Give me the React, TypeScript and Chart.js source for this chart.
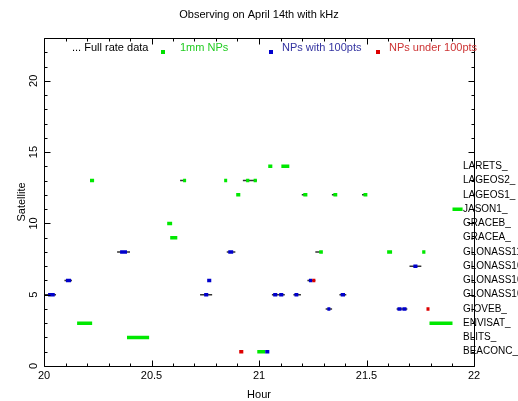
import React, { useEffect, useRef } from 'react';
import { Chart, registerables } from 'chart.js';

Chart.register(...registerables);

const titleText = 'Observing on April 14th with kHz';
const xTitle = 'Hour';
const yTitle = 'Satellite';
const xMin = 20;
const xMax = 22;
const yMin = 0;
const yMax = 23;
const xTickValues = [20, 20.5, 21, 21.5, 22];
const xTickLabels = ['20', '20.5', '21', '21.5', '22'];
const yTickValues = [0, 5, 10, 15, 20];
const yTickLabels = ['0', '5', '10', '15', '20'];

// satellite index -> name (index 1 at bottom)
const satIndex = [1, 2, 3, 4, 5, 6, 7, 8, 9, 10, 11, 12, 13, 14];
const satNames = [
  'BEACONC_', 'BLITS_', 'ENVISAT_', 'GIOVEB_', 'GLONASS102_', 'GLONASS103_',
  'GLONASS109_', 'GLONASS115_', 'GRACEA_', 'GRACEB_', 'JASON1_', 'LAGEOS1_',
  'LAGEOS2_', 'LARETS_',
];

const legendLabels = ['... Full rate data', '1mm NPs', 'NPs with 100pts', 'NPs under 100pts'];

// [satellite, start hour, end hour]
const fullRateSpans: number[][] = [
  [13, 20.633, 20.66], [13, 20.925, 20.99],
  [12, 21.199, 21.21], [12, 21.339, 21.35], [12, 21.479, 21.49],
  [8, 20.34, 20.40], [8, 20.85, 20.89], [8, 21.262, 21.285],
  [7, 21.70, 21.755],
  [6, 20.095, 20.13], [6, 21.225, 21.262],
  [5, 20.0, 20.056], [5, 20.726, 20.782], [5, 21.06, 21.12], [5, 21.16, 21.195], [5, 21.374, 21.406],
  [4, 21.31, 21.34], [4, 21.64, 21.69],
];

const greenSpans: number[][] = [
  [14, 21.043, 21.062], [14, 21.104, 21.141],
  [13, 20.214, 20.233], [13, 20.647, 20.661], [13, 20.838, 20.852], [13, 20.94, 20.955], [13, 20.975, 20.99],
  [12, 20.894, 20.913], [12, 21.206, 21.225], [12, 21.346, 21.364], [12, 21.486, 21.504],
  [11, 21.9, 21.947],
  [10, 20.573, 20.596],
  [9, 20.587, 20.62],
  [8, 21.28, 21.297], [8, 21.596, 21.619], [8, 21.759, 21.774],
  [3, 20.154, 20.224], [3, 21.793, 21.9],
  [2, 20.386, 20.489],
  [1, 20.992, 21.029],
];

const blueSpans: number[][] = [
  [8, 20.354, 20.386], [8, 20.857, 20.88],
  [7, 21.718, 21.737],
  [6, 20.102, 20.126], [6, 20.759, 20.778], [6, 21.232, 21.248],
  [5, 20.019, 20.05], [5, 20.745, 20.764], [5, 21.066, 21.085], [5, 21.094, 21.113], [5, 21.165, 21.183], [5, 21.38, 21.4],
  [4, 21.318, 21.332], [4, 21.644, 21.663], [4, 21.667, 21.686],
  [1, 21.029, 21.048],
];

const redSpans: number[][] = [
  [6, 21.248, 21.262],
  [4, 21.779, 21.793],
  [1, 20.908, 20.927],
];

const FONT = '"Liberation Sans", Arial, sans-serif';

function toLine(spans: number[][]) {
  const pts: { x: number; y: number | null }[] = [];
  for (const [sat, s, e] of spans) {
    pts.push({ x: s, y: sat }, { x: e, y: sat }, { x: e, y: null });
  }
  return pts;
}

const decorPlugin = {
  id: 'decor',
  afterDraw(chart: any) {
    const ctx = chart.ctx as CanvasRenderingContext2D;
    const xs = chart.scales.x;
    const ys = chart.scales.y;
    const { left, right, top, bottom } = chart.chartArea;
    ctx.save();
    ctx.strokeStyle = '#000';
    ctx.lineWidth = 1;
    const L = Math.round(left) + 0.5;
    const R = Math.round(right) + 0.5;
    const T = Math.round(top) + 0.5;
    const B = Math.round(bottom) + 0.5;
    ctx.beginPath();
    ctx.rect(L, T, R - L, B - T);
    ctx.stroke();
    // x ticks
    ctx.beginPath();
    for (let i = 0; i <= 20; i++) {
      const v = xMin + i / 10;
      const px = Math.round(xs.getPixelForValue(v)) + 0.5;
      const len = i % 5 === 0 ? 6 : 3;
      ctx.moveTo(px, B); ctx.lineTo(px, B - len);
      ctx.moveTo(px, T); ctx.lineTo(px, T + len);
    }
    for (let i = yMin; i <= yMax; i++) {
      const py = Math.round(ys.getPixelForValue(i)) + 0.5;
      const len = i % 5 === 0 ? 6 : 3;
      ctx.moveTo(L, py); ctx.lineTo(L + len, py);
      ctx.moveTo(R, py); ctx.lineTo(R - len, py);
    }
    ctx.stroke();

    ctx.fillStyle = '#000';
    ctx.font = `11px ${FONT}`;
    ctx.textAlign = 'center';
    ctx.textBaseline = 'middle';
    xTickValues.forEach((v, i) => {
      ctx.fillText(xTickLabels[i], xs.getPixelForValue(v), 376);
    });
    yTickValues.forEach((v, i) => {
      ctx.save();
      ctx.translate(34, ys.getPixelForValue(v));
      ctx.rotate(-Math.PI / 2);
      ctx.fillText(yTickLabels[i], 0, 0);
      ctx.restore();
    });
    // axis titles
    ctx.fillText(xTitle, (left + right) / 2, 395);
    ctx.save();
    ctx.translate(22, (top + bottom) / 2);
    ctx.rotate(-Math.PI / 2);
    ctx.fillText(yTitle, 0, 0);
    ctx.restore();
    // title
    ctx.fillText(titleText, 259, 15);

    // legend
    ctx.textAlign = 'left';
    ctx.fillStyle = '#000';
    ctx.fillText(legendLabels[0], 72, 48);
    ctx.fillStyle = '#00e000';
    ctx.fillRect(161, 50, 4, 4);
    ctx.fillStyle = '#22cc22';
    ctx.fillText(legendLabels[1], 180, 48);
    ctx.fillStyle = '#0000cc';
    ctx.fillRect(269, 50, 4, 4);
    ctx.fillStyle = '#3333a0';
    ctx.fillText(legendLabels[2], 282, 48);
    ctx.fillStyle = '#dd0000';
    ctx.fillRect(376, 50, 4, 4);
    ctx.fillStyle = '#cc3333';
    ctx.fillText(legendLabels[3], 389, 48);

    // satellite names on right
    ctx.fillStyle = '#000';
    ctx.font = `10px ${FONT}`;
    satIndex.forEach((s, i) => {
      ctx.fillText(satNames[i], 463, ys.getPixelForValue(s));
    });
    ctx.restore();
  },
};

export default function App() {
  const ref = useRef<HTMLCanvasElement>(null);
  useEffect(() => {
    document.body.style.margin = '0';
    const canvas = ref.current!;
    const chart = new Chart(canvas, {
      type: 'scatter',
      data: {
        datasets: [
          { label: 'full', data: toLine(fullRateSpans) as any, showLine: true, spanGaps: false, borderColor: '#333', borderWidth: 1.5, pointRadius: 0, borderCapStyle: 'butt', order: 4 },
          { label: 'green', data: toLine(greenSpans) as any, showLine: true, spanGaps: false, borderColor: '#00e800', borderWidth: 3.5, pointRadius: 0, borderCapStyle: 'butt', order: 3 },
          { label: 'blue', data: toLine(blueSpans) as any, showLine: true, spanGaps: false, borderColor: '#0000cc', borderWidth: 3.5, pointRadius: 0, borderCapStyle: 'butt', order: 2 },
          { label: 'red', data: toLine(redSpans) as any, showLine: true, spanGaps: false, borderColor: '#dd0000', borderWidth: 3.5, pointRadius: 0, borderCapStyle: 'butt', order: 1 },
        ],
      },
      options: {
        animation: false,
        responsive: false,
        devicePixelRatio: 1,
        layout: { padding: { left: 44, right: 44, top: 38, bottom: 35 } },
        scales: {
          x: { type: 'linear', min: xMin, max: xMax, display: false },
          y: { type: 'linear', min: yMin, max: yMax, display: false },
        },
        plugins: { legend: { display: false }, tooltip: { enabled: false }, title: { display: false } },
        elements: { line: { tension: 0 } },
      },
      plugins: [decorPlugin],
    });
    return () => chart.destroy();
  }, []);
  return (
    <div style={{ position: 'absolute', left: 0, top: 0, width: 518, height: 401, background: '#fff' }}>
      <canvas ref={ref} width={518} height={401} />
    </div>
  );
}
